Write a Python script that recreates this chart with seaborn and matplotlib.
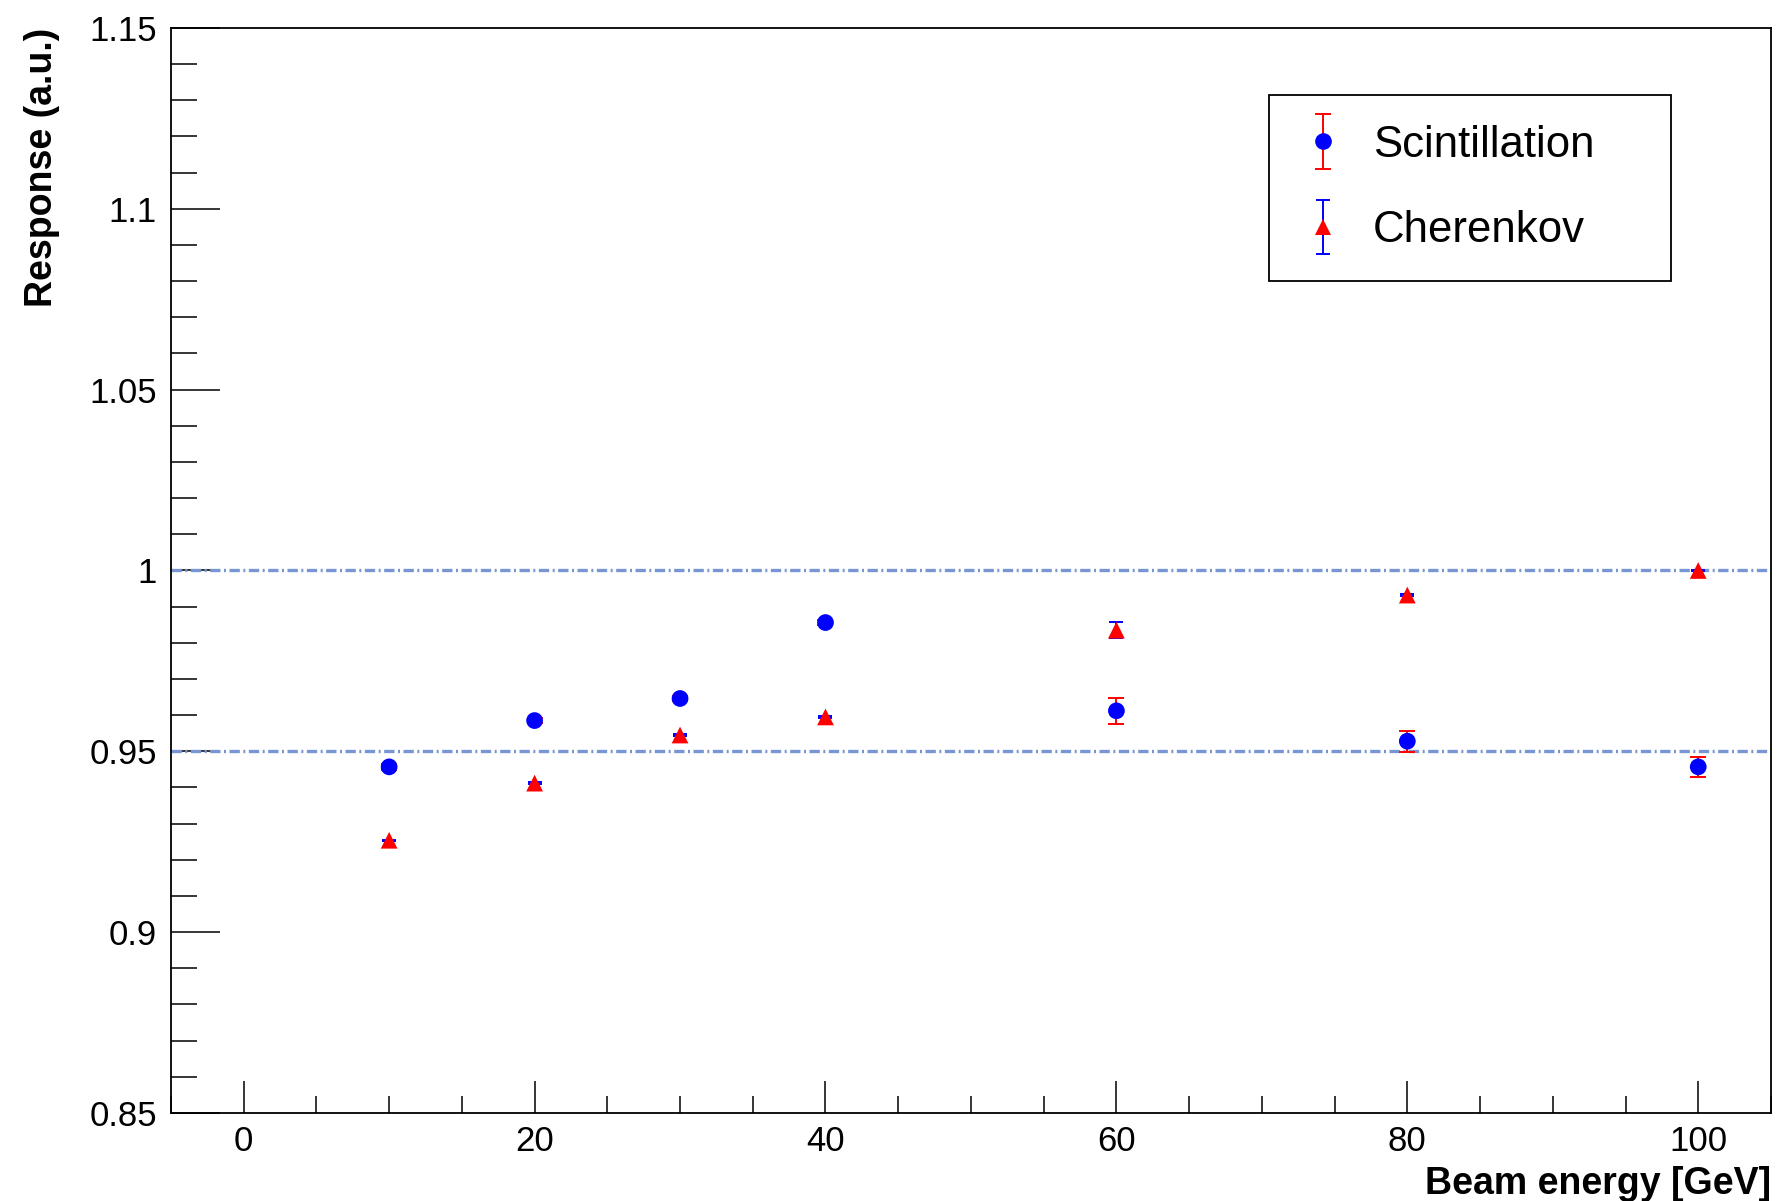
import numpy as np
import pandas as pd
import seaborn as sns
import matplotlib.pyplot as plt
from matplotlib.lines import Line2D
from matplotlib.container import ErrorbarContainer
from matplotlib.legend_handler import HandlerErrorbar
from matplotlib.ticker import MultipleLocator, FuncFormatter

# Data
energy = [10, 20, 30, 40, 60, 80, 100]
scint = [0.9457, 0.9585, 0.9646, 0.9856, 0.9612, 0.9528, 0.9457]
scint_err = [0.0008, 0.0008, 0.0008, 0.0008, 0.0036, 0.0029, 0.0028]
cher = [0.9254, 0.9412, 0.9545, 0.9595, 0.9835, 0.9932, 1.0]
cher_err = [0.0002, 0.0002, 0.0002, 0.0002, 0.0022, 0.0002, 0.0002]
ref_levels = [1.0, 0.95]
series_names = ["Scintillation", "Cherenkov"]

df = pd.DataFrame({
    "energy": energy + energy,
    "response": scint + cher,
    "series": [series_names[0]] * len(energy) + [series_names[1]] * len(energy),
})

sns.set_theme(style="ticks")
plt.rcParams['font.family'] = ['Liberation Sans', 'DejaVu Sans']
plt.rcParams['text.color'] = 'black'
plt.rcParams['xtick.color'] = 'black'
plt.rcParams['ytick.color'] = 'black'
plt.rcParams['axes.labelcolor'] = 'black'

fig = plt.figure(figsize=(17.77, 12.01), dpi=100)
ax = fig.add_axes([0.0962, 0.0733, 0.9004, 0.9034])

# dash-dot reference lines
for lvl in ref_levels:
  ax.axhline(lvl, color="#7896d4", lw=2.4, dashes=(3.1, 1.05, 0.6, 1.05), zorder=1)

# error bars (colours swapped w.r.t. the markers, as in the original)
eb_s = ax.errorbar(energy, scint, yerr=scint_err, fmt='none', ecolor='red',
                   elinewidth=1.4, capsize=5.5, capthick=1.4, zorder=2)
eb_c = ax.errorbar(energy, cher, yerr=cher_err, fmt='none', ecolor='blue',
                   elinewidth=1.4, capsize=5.0, capthick=1.4, zorder=2)

sns.scatterplot(data=df, x="energy", y="response", hue="series", style="series",
                palette={"Scintillation": "blue", "Cherenkov": "red"},
                markers={"Scintillation": "o", "Cherenkov": "^"},
                s=145, linewidth=0, legend=False, ax=ax, zorder=3)

ax.set_xlim(-5, 105)
ax.set_ylim(0.85, 1.15)
ax.xaxis.set_major_locator(MultipleLocator(20))
ax.xaxis.set_minor_locator(MultipleLocator(5))
ax.yaxis.set_major_locator(MultipleLocator(0.05))
ax.yaxis.set_minor_locator(MultipleLocator(0.01))
ax.yaxis.set_major_formatter(FuncFormatter(lambda v, p: f"{v:g}"))
ax.xaxis.set_major_formatter(FuncFormatter(lambda v, p: f"{v:g}"))

ax.tick_params(which='both', direction='in', top=False, right=False,
               color='black', labelcolor='black', width=1.1)
ax.tick_params(axis='y', which='major', length=35, labelsize=25, pad=10)
ax.tick_params(axis='y', which='minor', length=18.5)
ax.tick_params(axis='x', which='major', length=23, labelsize=25, pad=8.5)
ax.tick_params(axis='x', which='minor', length=12)
for sp in ax.spines.values():
  sp.set_visible(True)
  sp.set_color('black')
  sp.set_linewidth(1.3)

ax.set_xlabel("Beam energy [GeV]", fontsize=27, fontweight='bold', loc='right')
ax.set_ylabel("Response (a.u.)", fontsize=27, fontweight='bold', loc='top')
ax.xaxis.set_label_coords(1.0, -0.049)
ax.yaxis.set_label_coords(-0.0694, 1.0)

# legend: marker with the error bar of the other colour
m_s = Line2D([], [], marker='o', color='blue', ls='none', ms=12, mew=0)
m_c = Line2D([], [], marker='^', color='red', ls='none', ms=12, mew=0)
leg = ax.legend([(eb_s, m_s), (eb_c, m_c)], series_names,
                handler_map={ErrorbarContainer: HandlerErrorbar(yerr_size=0.62)},
                bbox_to_anchor=(0.7141, 0.7727, 0.2263, 0.1482),
                bbox_transform=fig.transFigure, loc='upper left', mode='expand',
                borderaxespad=0, fontsize=31.5, fancybox=False, framealpha=1,
                edgecolor='black', borderpad=0.68, labelspacing=1.02,
                handlelength=1.1, handletextpad=0.6)
leg.get_frame().set_linewidth(1.3)

fig.savefig("out.png", dpi=100)
